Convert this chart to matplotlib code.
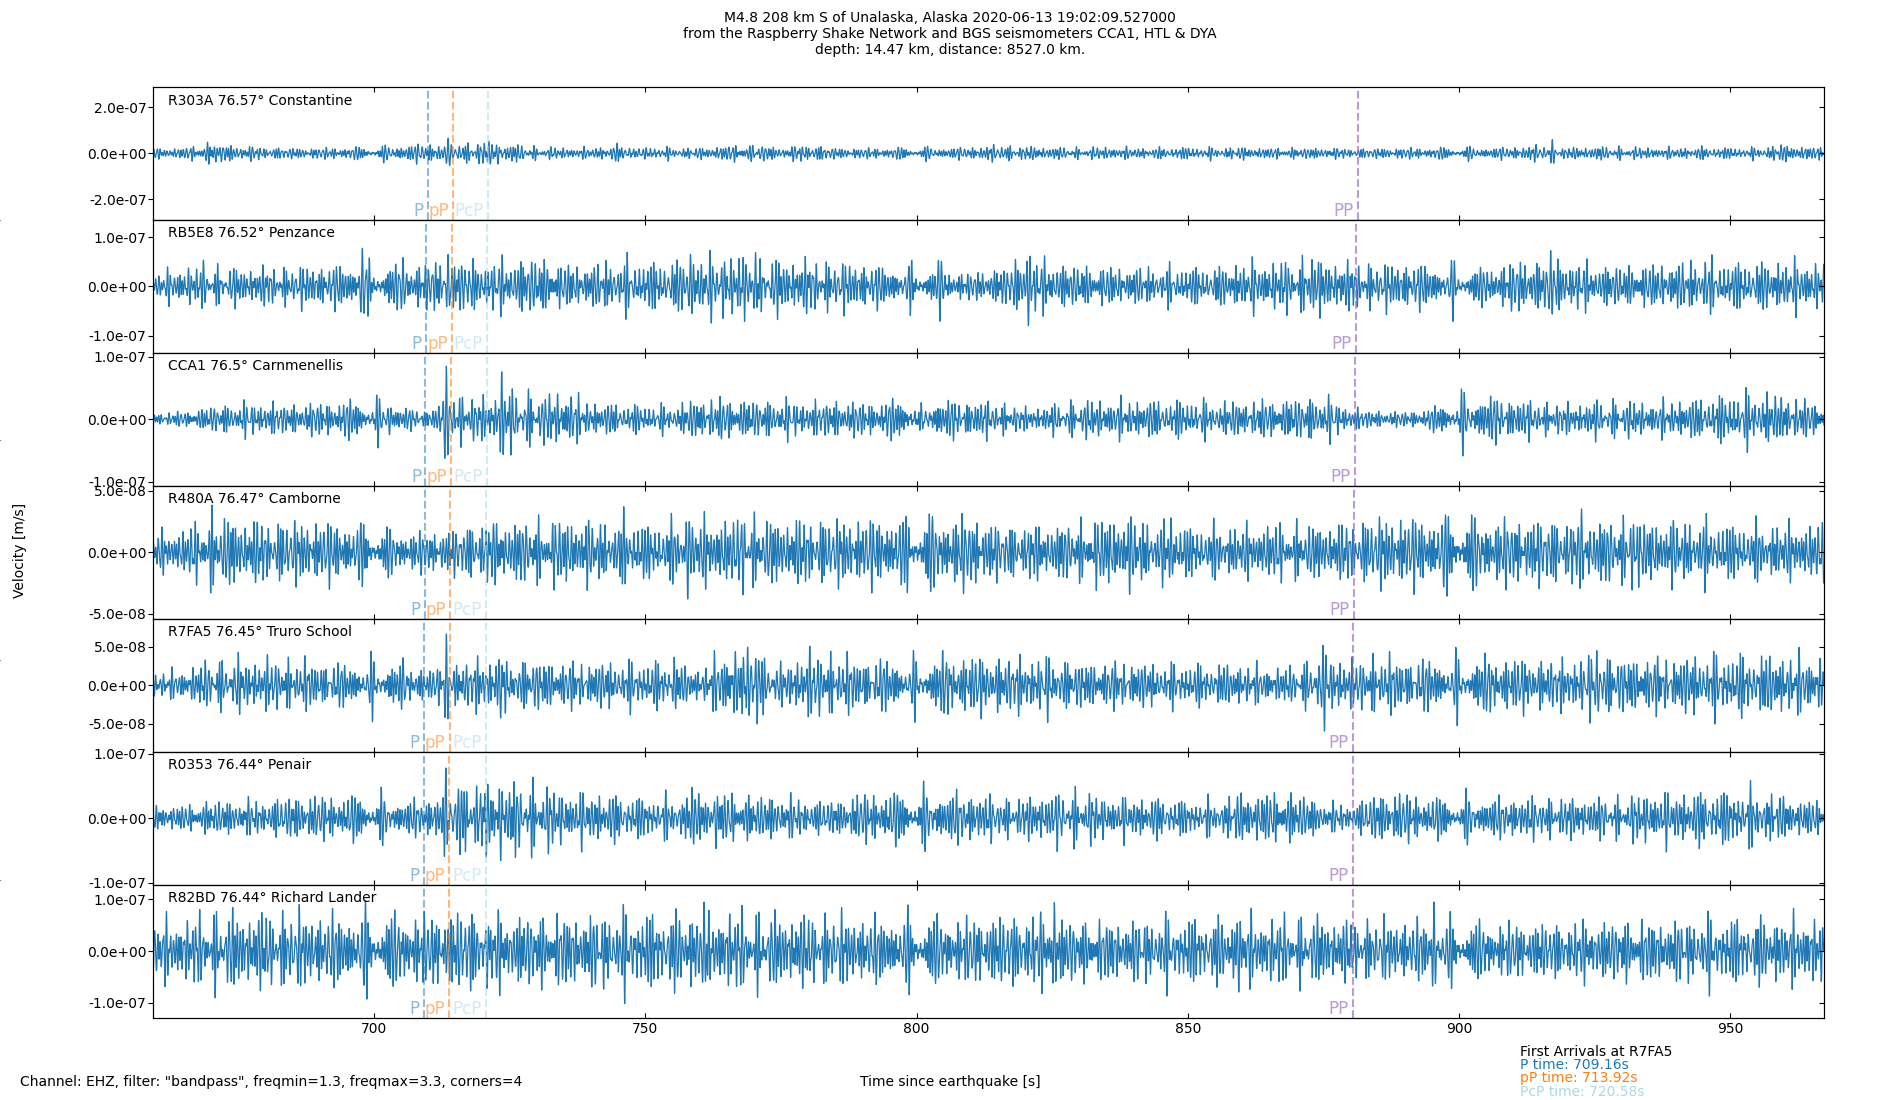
import numpy as np
import matplotlib.pyplot as plt
from matplotlib.ticker import FormatStrFormatter

# stations, top to bottom
stations = ['R303A', 'RB5E8', 'CCA1', 'R480A', 'R7FA5', 'R0353', 'R82BD']
distances = [76.57, 76.52, 76.5, 76.47, 76.45, 76.44, 76.44]
locations = ['Constantine', 'Penzance', 'Carnmenellis', 'Camborne',
             'Truro School', 'Penair', 'Richard Lander']

# phase arrival times [s]
p_times = [709.82, 709.55, 709.44, 709.27, 709.16, 709.11, 709.11]
pP_times = [714.58, 714.31, 714.20, 714.03, 713.92, 713.87, 713.87]
PcP_times = [721.00, 720.82, 720.75, 720.65, 720.58, 720.55, 720.55]
PP_times = [881.4, 881.0, 880.8, 880.6, 880.5, 880.4, 880.4]

# y axis half range and tick value per panel [m/s]
y_limits = [2.89e-7, 1.35e-7, 1.06e-7, 5.4e-8, 8.65e-8, 1.03e-7, 1.28e-7]
y_ticks = [2e-7, 1e-7, 1e-7, 5e-8, 5e-8, 1e-7, 1e-7]

# amplitude envelope of each trace, every 5 s from 660 s to 965 s [1e-8 m/s]
env_times = list(range(660, 970, 5))
env_R303A = [1.5, 1.6, 3.2, 2.2, 1.8, 1.6, 1.6, 1.8, 1.8, 2.4,
             2.8, 2.6, 3.6, 2.8, 1.8, 1.6, 1.6, 2.4, 2.0, 1.6,
             1.6, 2.2, 2.8, 1.6, 2.6, 1.6, 1.5, 1.6, 1.8, 1.6,
             1.8, 2.4, 2.0, 1.8, 1.6, 1.8, 1.6, 1.6, 1.8, 1.6,
             1.8, 1.5, 1.6, 1.6, 1.4, 1.5, 1.6, 1.6, 1.8, 1.6,
             1.8, 2.4, 1.6, 2.0, 1.8, 1.6, 1.6, 1.8, 1.6, 1.6,
             2.6, 1.8]
env_RB5E8 = [1.8, 2.6, 2.6, 2.5, 2.6, 2.6, 2.9, 2.9, 2.9, 3.0,
             3.2, 3.9, 3.2, 3.6, 3.9, 2.9, 2.9, 3.6, 3.2, 3.4,
             3.9, 3.9, 4.2, 3.6, 3.6, 3.2, 3.2, 2.5, 2.6, 2.2,
             1.8, 2.5, 3.8, 3.2, 2.8, 2.6, 2.5, 2.5, 2.6, 2.5,
             3.2, 3.2, 3.5, 3.6, 3.2, 3.0, 3.2, 2.8, 2.5, 2.5,
             3.4, 3.6, 3.4, 2.9, 2.8, 2.9, 3.2, 3.4, 3.2, 3.2,
             3.4, 3.2]
env_CCA1 = [0.7, 0.8, 1.4, 1.7, 1.7, 1.6, 1.8, 2.0, 2.0, 1.2,
            1.0, 3.0, 2.2, 3.0, 2.8, 2.8, 1.8, 1.6, 1.5, 1.4,
            2.2, 2.2, 2.0, 2.0, 1.8, 2.0, 1.8, 2.0, 2.6, 2.0,
            2.0, 1.8, 1.2, 1.5, 2.0, 2.0, 2.0, 2.0, 2.0, 1.8,
            1.9, 2.0, 2.2, 2.4, 1.2, 0.9, 0.8, 1.2, 2.4, 2.5,
            2.2, 1.8, 1.6, 1.9, 2.0, 1.7, 2.0, 2.2, 2.6, 2.8,
            2.6, 1.8]
env_R480A = [1.1, 1.2, 2.1, 1.8, 1.7, 1.7, 1.7, 1.6, 1.4, 1.1,
             1.1, 1.3, 1.7, 1.7, 1.7, 1.8, 1.7, 1.7, 1.5, 1.6,
             1.8, 1.8, 1.8, 1.8, 1.8, 1.8, 1.8, 1.9, 1.9, 1.9,
             2.0, 1.5, 1.5, 1.5, 1.6, 1.9, 1.9, 1.5, 1.4, 1.4,
             1.4, 1.5, 1.5, 1.5, 1.6, 1.9, 1.9, 1.9, 1.9, 1.8,
             1.8, 1.8, 1.8, 1.8, 1.7, 1.7, 1.7, 1.7, 1.5, 1.5,
             1.5, 1.5]
env_R7FA5 = [1.1, 1.3, 2.2, 2.2, 2.2, 2.2, 2.0, 1.8, 2.0, 2.0,
             1.4, 1.8, 2.4, 2.2, 2.2, 2.0, 2.0, 2.0, 2.0, 2.0,
             1.4, 3.0, 3.0, 1.6, 3.0, 2.6, 2.2, 2.2, 2.0, 2.6,
             2.6, 2.4, 2.4, 2.4, 2.0, 2.0, 2.0, 1.8, 1.8, 1.8,
             1.8, 1.5, 1.6, 3.0, 2.0, 2.6, 2.2, 2.2, 2.2, 2.4,
             2.4, 2.2, 2.2, 2.6, 2.4, 2.4, 2.4, 2.6, 2.6, 2.6,
             2.6, 2.4]
env_R0353 = [1.3, 1.3, 1.8, 1.8, 1.8, 2.3, 2.3, 2.3, 2.3, 1.8,
             2.0, 3.6, 3.6, 3.6, 3.6, 2.6, 2.6, 2.4, 2.1, 2.1,
             2.6, 2.6, 2.3, 2.3, 1.8, 1.8, 2.6, 2.6, 2.6, 2.6,
             2.6, 2.1, 2.1, 2.8, 2.8, 2.1, 2.1, 2.1, 1.8, 1.8,
             2.6, 2.6, 2.6, 1.6, 1.3, 2.6, 2.6, 2.1, 2.1, 2.1,
             2.1, 2.1, 2.1, 2.1, 2.1, 2.6, 2.6, 2.8, 2.8, 2.8,
             2.2, 1.8]
env_R82BD = [3.9, 3.9, 4.9, 4.9, 4.9, 4.9, 4.6, 4.6, 4.6, 4.6,
             4.6, 5.2, 5.2, 4.6, 4.6, 4.6, 4.6, 4.9, 4.9, 4.9,
             4.9, 4.9, 4.9, 4.6, 4.6, 4.6, 4.2, 4.2, 4.2, 4.2,
             4.2, 4.6, 4.6, 4.6, 3.9, 3.9, 3.9, 4.2, 4.2, 4.2,
             4.2, 4.2, 4.2, 4.2, 3.9, 3.9, 3.9, 3.6, 3.6, 3.6,
             3.6, 3.6, 3.6, 3.9, 3.9, 3.9, 3.9, 4.2, 4.2, 4.2,
             4.2, 4.2]

# single large swings (time [s], peak [1e-8 m/s])
spikes_R303A = [(670.8, -4.0), (713.6, 6.5), (722.8, -4.5), (748.8, 2.5),
                (769.8, 3.2), (917.2, 5.5), (959.4, 3.2)]
spikes_RB5E8 = [(668.5, 4.8), (697.8, 7.5), (705.3, 5.5), (713.6, 6.5),
                (758.3, 6.6), (764.3, -6.6), (770.3, 6.8), (804.3, -6.5),
                (820.6, -8.0), (872.9, 5.5), (898.9, -6.2), (916.9, 7.2),
                (945.4, 4.5)]
spikes_CCA1 = [(702.8, -2.5), (713.3, 8.3), (716.0, -3.6), (723.5, 7.0),
               (732.3, 3.3), (736.3, 3.3), (800.8, 3.0), (959.4, 3.2)]
spikes_R480A = [(746.0, 3.6), (757.8, -4.2), (768.0, -3.3), (798.3, -3.0),
                (846.9, 2.9), (922.6, 3.1), (931.9, -3.0)]
spikes_R7FA5 = [(705.3, 3.5), (713.3, 6.8), (723.3, -4.2), (755.3, 3.5),
                (770.6, -5.0), (780.3, 4.0), (875.2, -5.0), (925.4, 4.7)]
spikes_R0353 = [(713.2, 8.0), (715.8, -5.5), (723.3, -6.6), (758.6, 4.5),
                (763.0, -5.3), (825.9, -5.0)]
spikes_R82BD = [(720.8, -7.6), (760.8, 9.9), (825.4, 9.9), (859.4, -8.2),
                (895.4, 8.8)]

envelopes = [env_R303A, env_RB5E8, env_CCA1, env_R480A, env_R7FA5, env_R0353, env_R82BD]
spikes = [spikes_R303A, spikes_RB5E8, spikes_CCA1, spikes_R480A, spikes_R7FA5,
          spikes_R0353, spikes_R82BD]

t_start, t_end = 659.16, 967.3
sps = 100
t = np.arange(t_start, t_end, 1 / sps)
# band-limited carrier inside the 1.3-3.3 Hz filter
freqs = np.array([1.31, 1.47, 1.64, 1.83, 2.04, 2.29, 2.61])

fig, axs = plt.subplots(len(stations), 1, sharex=True, figsize=(19, 11), dpi=100)
fig.subplots_adjust(left=0.0804, right=0.96, top=0.921, bottom=0.075, hspace=0)

# faint full-figure axes (leaves small ticks on the left edge)
ax_bg = fig.add_axes([0, 0, 1, 1], frameon=False, zorder=-1)
ax_bg.set_xticks([])
ax_bg.set_yticks([0.2, 0.4, 0.6, 0.8])
ax_bg.tick_params(labelleft=False)
ax_bg.patch.set_visible(False)

phase_sets = [(p_times, 'P', 'C0', 0.5), (pP_times, 'pP', 'C1', 0.55),
              (PcP_times, 'PcP', 'lightblue', 0.55), (PP_times, 'PP', 'C4', 0.65)]

for i, ax in enumerate(axs):
    phases = 2 * np.pi * (((np.arange(len(freqs)) + 1) * (i + 1) * 0.618034) % 1)
    carrier = np.sin(2 * np.pi * np.outer(t, freqs) + phases).sum(axis=1) / 2.8
    env = np.interp(t, env_times, envelopes[i])
    trace = env * carrier
    for ts, amp in spikes[i]:
        # swap the background for the pulse so its peak matches the picture
        win = np.exp(-((t - ts) / 0.7) ** 2)
        pulse = amp * np.exp(-((t - ts) / 0.45) ** 2) * np.cos(2 * np.pi * 1.7 * (t - ts))
        trace = trace * (1 - 0.8 * win) + pulse
    ax.plot(t, trace * 1e-8, color='C0', lw=0.9)

    for times, name, col, alpha in phase_sets:
        ax.axvline(times[i], ls='--', color=col, alpha=alpha, lw=1.5)
        ax.annotate(name, xy=(times[i], 0), xycoords=('data', 'axes fraction'),
                    xytext=(-3, 0), textcoords='offset points', ha='right', va='bottom',
                    color=col, alpha=alpha, fontsize=12)

    ax.text(0.009, 0.95, f'{stations[i]} {distances[i]}\u00b0 {locations[i]}',
            transform=ax.transAxes, va='top', ha='left', fontsize=10)

    ax.set_xlim(t_start, t_end)
    ax.set_ylim(-y_limits[i], y_limits[i])
    ax.set_yticks([-y_ticks[i], 0, y_ticks[i]])
    ax.yaxis.set_major_formatter(FormatStrFormatter('%.1e'))
    ax.tick_params(axis='x', direction='in', top=True, labelsize=10)
    ax.tick_params(axis='y', pad=1, labelsize=10)

    ax_r = ax.twinx()
    ax_r.set_ylim(-y_limits[i], y_limits[i])
    ax_r.set_yticks([-y_ticks[i], 0, y_ticks[i]])
    ax_r.tick_params(axis='y', direction='in', labelright=False)

fig.suptitle('M4.8 208 km S of Unalaska, Alaska 2020-06-13 19:02:09.527000\n'
             'from the Raspberry Shake Network and BGS seismometers CCA1, HTL & DYA\n'
             'depth: 14.47 km, distance: 8527.0 km.', y=0.99, fontsize=10)

fig.text(0.0103, 0.5, 'Velocity [m/s]', rotation=90, va='center', ha='center', fontsize=10)
fig.text(0.5, 0.016, 'Time since earthquake [s]', va='center', ha='center', fontsize=10)
fig.text(0.0103, 0.016, 'Channel: EHZ, filter: "bandpass", freqmin=1.3, freqmax=3.3, corners=4',
         va='center', ha='left', fontsize=10)

fig.text(0.8, 0.0439, 'First Arrivals at R7FA5', va='center', fontsize=10)
fig.text(0.8, 0.0318, f'P time: {p_times[4]:.2f}s', va='center', color='C0', fontsize=10)
fig.text(0.8, 0.0203, f'pP time: {pP_times[4]:.2f}s', va='center', color='C1', fontsize=10)
fig.text(0.8, 0.0075, f'PcP time: {PcP_times[4]:.2f}s', va='center', color='lightblue', fontsize=10)

plt.savefig('out.png')
